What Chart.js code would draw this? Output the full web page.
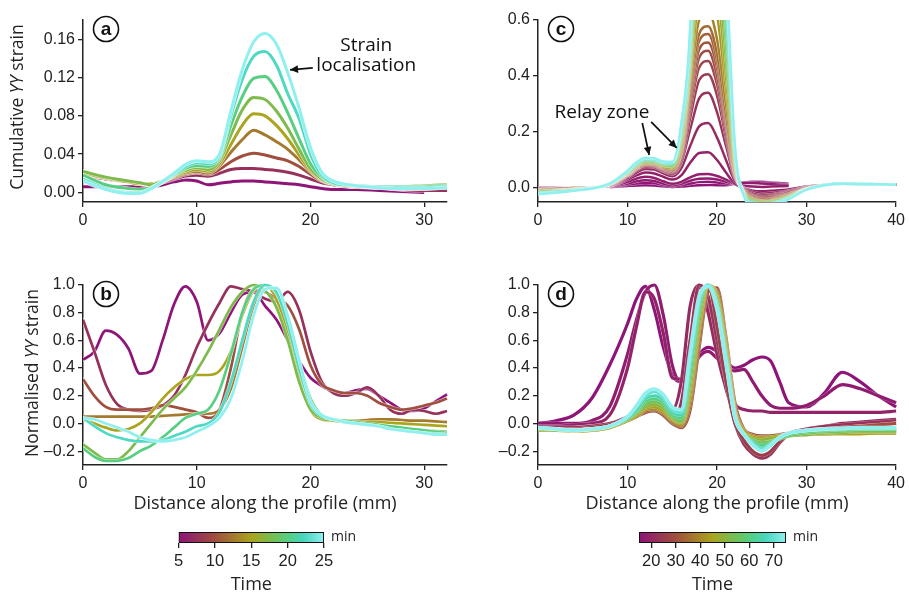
<!DOCTYPE html>
<html><head><meta charset="utf-8">
<script src="https://cdn.jsdelivr.net/npm/chart.js@4/dist/chart.umd.min.js"></script>
<style>
html,body{margin:0;padding:0;background:#fff;width:909px;height:594px;overflow:hidden}
canvas{position:absolute}
</style></head><body>
<canvas id="ca" style="left:0;top:0" width="460" height="235"></canvas>
<canvas id="cb" style="left:0;top:265px" width="460" height="250"></canvas>
<canvas id="cc" style="left:480px;top:0" width="429" height="235"></canvas>
<canvas id="cd" style="left:480px;top:265px" width="429" height="250"></canvas>
<canvas id="cbarA" style="left:170px;top:526px" width="200" height="70"></canvas>
<canvas id="cbarD" style="left:630px;top:526px" width="200" height="70"></canvas>
<script>
// ---------------- DATA ----------------
// Panel a: cumulative YY strain, times 5..25 min
const A_X = [0,2,4,5,6,8,9,10,11,12,13,14,15,16,17,18,19,20,21,22,24,26,28,30,32];
const A_TIMES = [5,7.5,10,12.5,15,17.5,20,22.5,25];
const A_05  = [0.006,0.006,0.006,0.006,0.006,0.011,0.013,0.012,0.008,0.0095,0.011,0.012,0.012,0.011,0.01,0.009,0.008,0.006,0.004,0.003,0.003,0.002,0.001,0.0,null];
const A_075 = [0.018,0.014,0.011,0.009,0.008,0.014,0.017,0.018,0.017,0.02,0.024,0.025,0.025,0.024,0.023,0.021,0.018,0.014,0.01,0.008,0.006,0.005,0.003,0.002,0.002];
const A_10  = [0.019,0.015,0.011,0.009,0.008,0.015,0.019,0.021,0.019,0.024,0.032,0.038,0.041,0.039,0.036,0.033,0.027,0.019,0.012,0.008,0.006,0.005,0.004,0.004,0.005];
const A_125 = [0.02,0.015,0.011,0.009,0.009,0.016,0.02,0.022,0.02,0.028,0.042,0.055,0.065,0.06,0.053,0.045,0.034,0.022,0.013,0.009,0.006,0.006,0.005,0.006,0.007];
const A_15  = [0.021,0.015,0.011,0.009,0.009,0.017,0.021,0.024,0.022,0.03,0.05,0.07,0.082,0.08,0.07,0.056,0.039,0.023,0.013,0.009,0.006,0.006,0.006,0.007,0.008];
const A_175 = [0.022,0.016,0.012,0.01,0.008,0.018,0.023,0.026,0.024,0.033,0.06,0.086,0.099,0.097,0.085,0.067,0.045,0.025,0.014,0.009,0.007,0.006,0.006,0.007,0.008];
const A_20  = [0.018,0.008,0.004,0.003,0.005,0.018,0.025,0.028,0.027,0.036,0.07,0.1,0.119,0.121,0.107,0.083,0.056,0.03,0.016,0.01,0.007,0.006,0.006,0.006,0.007];
const A_225 = [0.014,0.004,0.0,0.0,0.004,0.019,0.027,0.031,0.03,0.038,0.08,0.118,0.142,0.147,0.133,0.103,0.077,0.04,0.018,0.01,0.007,0.006,0.005,0.005,0.006];
const A_25  = [0.012,0.003,-0.001,-0.001,0.004,0.02,0.029,0.033,0.032,0.04,0.085,0.128,0.157,0.166,0.155,0.125,0.088,0.047,0.021,0.012,0.007,0.005,0.004,0.004,0.005];

// Panel b: normalised YY strain, times 5..25 min
const B_X = [0,1,2,3,4,5,6,7,8,9,10,11,12,13,14,15,16,17,18,19,20,21,22,23,24,25,26,27,28,29,30,31,32];
const B_TIMES = [5,7.5,10,12.5,15,17.5,20,22.5,25];
const B_05  = [0.46,0.52,0.67,0.64,0.54,0.36,0.38,0.6,0.86,0.99,0.88,0.6,0.65,0.8,0.93,0.95,0.85,0.75,0.6,0.45,0.33,0.27,0.23,0.22,0.24,0.25,0.2,0.15,0.1,0.09,0.11,0.16,0.21];
const B_075 = [0.75,0.52,0.28,0.14,0.1,0.09,0.1,0.13,0.2,0.35,0.55,0.72,0.87,0.99,0.97,0.95,0.9,0.88,0.95,0.82,0.52,0.3,0.22,0.2,0.22,0.26,0.2,0.1,0.07,0.1,0.09,0.07,0.09];
const B_10  = [0.32,0.2,0.12,0.1,0.1,0.1,0.11,0.13,0.12,0.1,0.08,0.04,0.1,0.4,0.8,0.96,0.95,0.9,0.85,0.68,0.42,0.28,0.24,0.22,0.22,0.2,0.15,0.12,0.1,0.11,0.13,0.15,0.18];
const B_125 = [0.05,0.05,0.05,0.05,0.05,0.05,0.05,0.055,0.06,0.065,0.07,0.07,0.1,0.25,0.55,0.85,1.0,0.93,0.72,0.42,0.12,0.03,0.02,0.02,0.02,0.025,0.03,0.03,0.025,0.02,0.02,0.015,0.01];
const B_15  = [0.03,0.0,-0.03,-0.05,-0.04,0.0,0.08,0.18,0.26,0.32,0.35,0.35,0.38,0.52,0.78,0.96,1.0,0.9,0.66,0.36,0.1,0.03,0.02,0.02,0.015,0.01,0.01,0.005,0.0,-0.005,-0.01,-0.015,-0.02];
const B_175 = [-0.15,-0.21,-0.26,-0.26,-0.2,-0.1,0.0,0.1,0.18,0.26,0.38,0.52,0.68,0.84,0.95,1.0,0.96,0.84,0.6,0.3,0.1,0.04,0.02,0.01,0.0,-0.01,-0.02,-0.03,-0.04,-0.045,-0.05,-0.055,-0.06];
const B_20  = [-0.18,-0.24,-0.27,-0.27,-0.25,-0.2,-0.16,-0.1,-0.03,0.04,0.07,0.1,0.24,0.5,0.8,0.97,1.0,0.94,0.75,0.45,0.18,0.06,0.03,0.02,0.01,0.0,-0.01,-0.02,-0.03,-0.04,-0.05,-0.06,-0.07];
const B_225 = [0.04,-0.02,-0.07,-0.1,-0.12,-0.13,-0.13,-0.12,-0.09,-0.06,-0.02,0.0,0.08,0.3,0.6,0.88,1.0,0.95,0.72,0.4,0.14,0.05,0.03,0.01,0.0,-0.01,-0.02,-0.04,-0.05,-0.06,-0.07,-0.075,-0.08];
const B_25  = [0.04,0.03,0.0,-0.03,-0.06,-0.1,-0.12,-0.13,-0.12,-0.1,-0.06,-0.02,0.04,0.18,0.45,0.78,0.97,0.98,0.78,0.46,0.16,0.06,0.03,0.01,0.0,-0.01,-0.02,-0.04,-0.05,-0.06,-0.07,-0.08,-0.08];

// Panel c: cumulative YY strain, times 15..75 min
const C_X = [0,4,8,10,11,12,13,14,15,16,17,18,19,20,21,22,23,24,25,26,28,30,34,40];
const C_TIMES = [15,16,17,18,19,21,23,25,27,29,31,33,35,39,43,47,51,55,59,63,67,71,75];
const C_15 = [null,null,0.003,0.007,0.009,0.01,0.009,0.006,0.004,0.005,0.008,0.01,0.011,0.01,0.01,0.015,0.02,0.022,0.022,0.02,0.015,null,null,null];
const C_16 = [null,null,0.004,0.012,0.016,0.019,0.017,0.011,0.007,0.01,0.016,0.021,0.022,0.02,0.016,0.014,0.02,0.021,0.02,0.018,0.012,null,null,null];
const C_17 = [null,null,0.005,0.016,0.024,0.028,0.025,0.016,0.01,0.015,0.026,0.033,0.034,0.03,0.022,0.015,0.018,0.018,0.016,0.014,0.01,null,null,null];
const C_18 = [null,null,0.006,0.022,0.034,0.04,0.036,0.024,0.015,0.022,0.038,0.049,0.05,0.043,0.03,0.014,0.008,0.005,0.004,0.005,0.007,null,null,null];
const C_19 = [0,0,0.007,0.03,0.045,0.055,0.052,0.04,0.03,0.045,0.09,0.125,0.128,0.1,0.055,0.015,0,-0.01,-0.012,-0.01,-0.005,0.005,0.014,0.012];
const C_21 = [0,0,0.008,0.035,0.055,0.068,0.066,0.052,0.042,0.07,0.15,0.22,0.232,0.18,0.1,0.025,0,-0.015,-0.02,-0.018,-0.01,0.003,0.014,0.012];
const C_23 = [-0.003,0,0.009,0.04,0.062,0.076,0.074,0.06,0.05,0.09,0.21,0.32,0.34,0.27,0.15,0.035,-0.002,-0.02,-0.026,-0.024,-0.012,0.002,0.014,0.012];
const C_25 = [-0.004,0,0.01,0.043,0.066,0.08,0.078,0.063,0.055,0.1,0.25,0.385,0.406,0.33,0.18,0.04,-0.004,-0.025,-0.03,-0.028,-0.015,0.001,0.014,0.012];
const C_27 = [-0.005,0,0.01,0.045,0.068,0.083,0.08,0.066,0.058,0.11,0.28,0.43,0.454,0.37,0.2,0.045,-0.006,-0.028,-0.034,-0.032,-0.017,0,0.014,0.012];
const C_29 = [-0.006,0,0.011,0.046,0.07,0.085,0.082,0.068,0.06,0.12,0.3,0.465,0.49,0.4,0.22,0.05,-0.008,-0.03,-0.037,-0.035,-0.02,0,0.015,0.012];
const C_31 = [-0.007,-0.001,0.011,0.047,0.071,0.086,0.083,0.07,0.062,0.125,0.32,0.495,0.52,0.43,0.235,0.053,-0.01,-0.033,-0.04,-0.038,-0.022,-0.001,0.015,0.012];
const C_33 = [-0.008,-0.002,0.012,0.048,0.072,0.087,0.085,0.072,0.064,0.13,0.34,0.525,0.55,0.455,0.25,0.056,-0.012,-0.036,-0.043,-0.041,-0.024,-0.002,0.015,0.012];
const C_35 = [-0.009,-0.003,0.012,0.049,0.073,0.088,0.086,0.073,0.066,0.135,0.36,0.55,0.578,0.48,0.265,0.06,-0.014,-0.038,-0.046,-0.044,-0.026,-0.003,0.015,0.012];
const C_39 = [-0.01,-0.004,0.013,0.05,0.074,0.089,0.087,0.075,0.069,0.14,0.38,0.6,0.63,0.53,0.3,0.065,-0.015,-0.04,-0.047,-0.045,-0.027,-0.003,0.015,0.012];
const C_43 = [-0.011,-0.004,0.013,0.051,0.076,0.091,0.089,0.077,0.071,0.15,0.4,0.68,0.72,0.62,0.35,0.07,-0.016,-0.041,-0.049,-0.047,-0.028,-0.003,0.015,0.012];
const C_47 = [-0.012,-0.005,0.014,0.052,0.078,0.093,0.091,0.08,0.075,0.16,0.42,0.78,0.82,0.72,0.4,0.08,-0.018,-0.043,-0.05,-0.048,-0.03,-0.004,0.015,0.012];
const C_51 = [-0.013,-0.005,0.014,0.053,0.079,0.095,0.093,0.082,0.077,0.17,0.44,0.88,0.93,0.82,0.46,0.09,-0.019,-0.045,-0.052,-0.05,-0.031,-0.004,0.015,0.012];
const C_55 = [-0.014,-0.006,0.014,0.054,0.08,0.096,0.094,0.083,0.079,0.18,0.46,1.0,1.05,0.93,0.52,0.1,-0.02,-0.047,-0.054,-0.051,-0.032,-0.004,0.015,0.012];
const C_59 = [-0.016,-0.007,0.015,0.056,0.083,0.099,0.097,0.086,0.082,0.19,0.48,1.12,1.18,1.05,0.58,0.11,-0.022,-0.05,-0.056,-0.053,-0.034,-0.005,0.015,0.012];
const C_63 = [-0.017,-0.008,0.015,0.057,0.085,0.101,0.099,0.088,0.085,0.2,0.5,1.25,1.32,1.17,0.64,0.12,-0.024,-0.052,-0.058,-0.055,-0.035,-0.005,0.015,0.012];
const C_67 = [-0.019,-0.008,0.015,0.059,0.087,0.103,0.101,0.09,0.088,0.21,0.52,1.38,1.46,1.3,0.7,0.13,-0.025,-0.055,-0.061,-0.057,-0.037,-0.006,0.015,0.012];
const C_71 = [-0.02,-0.009,0.016,0.06,0.089,0.105,0.103,0.092,0.091,0.22,0.55,1.5,1.6,1.42,0.76,0.14,-0.026,-0.057,-0.063,-0.059,-0.038,-0.006,0.015,0.012];
const C_75 = [-0.022,-0.01,0.016,0.062,0.092,0.108,0.106,0.095,0.094,0.23,0.58,1.62,1.75,1.55,0.82,0.15,-0.028,-0.06,-0.066,-0.06,-0.04,-0.006,0.015,0.012];

// Panel d: normalised YY strain, times 15..75 min
const D_X = [0,2,4,6,8,10,11,12,13,14,15,16,17,18,19,20,21,22,23,24,25,26,27,28,30,32,34,36,38,40];
const D_TIMES = [15,17,19,21,23,26,30,35,40,45,50,55,60,65,70,75];
const D_15 = [0,0.02,0.06,0.18,0.42,0.72,0.9,0.99,0.82,0.55,0.35,0.3,0.38,0.5,0.55,0.52,0.45,0.4,0.42,0.46,0.48,0.45,0.3,0.15,0.12,0.22,0.37,0.3,0.2,0.12];
const D_17 = [0,0,0.0,0.02,0.12,0.5,0.75,0.95,1.0,0.78,0.42,0.3,0.36,0.48,0.52,0.47,0.41,0.38,0.39,0.3,0.2,0.13,0.11,0.11,0.13,0.2,0.28,0.25,0.2,0.15];
const D_19 = [-0.02,-0.02,-0.01,0.0,0.06,0.4,0.7,0.95,0.9,0.65,0.33,0.32,0.6,0.98,0.85,0.55,0.3,0.14,0.1,0.09,0.09,0.08,0.08,0.08,0.08,0.08,0.08,0.08,0.08,0.09];
const D_21 = [-0.03,-0.03,-0.03,-0.02,0.0,0.05,0.1,0.15,0.18,0.15,0.1,0.3,0.85,1.0,0.8,0.5,0.25,0.05,-0.06,-0.12,-0.16,-0.14,-0.1,-0.07,-0.04,-0.02,0.0,0.01,0.02,0.03];
const D_23 = [-0.03,-0.03,-0.03,-0.02,0.0,0.03,0.07,0.12,0.14,0.1,0.05,0.15,0.6,1.0,0.92,0.6,0.3,0.0,-0.15,-0.22,-0.25,-0.22,-0.14,-0.08,-0.04,-0.02,-0.01,0.0,0.01,0.02];
const D_26 = [-0.04,-0.04,-0.04,-0.03,-0.01,0.02,0.05,0.08,0.1,0.06,0.0,-0.02,0.3,0.85,1.0,0.7,0.3,0.0,-0.12,-0.2,-0.23,-0.2,-0.13,-0.08,-0.05,-0.04,-0.03,-0.02,-0.01,0.0];
const D_30 = [-0.04,-0.04,-0.045,-0.04,-0.02,0.02,0.05,0.08,0.09,0.06,0.0,-0.03,0.1,0.55,0.95,0.98,0.62,0.15,-0.04,-0.08,-0.09,-0.09,-0.08,-0.07,-0.05,-0.04,-0.03,-0.02,-0.01,0.0];
const D_35 = [-0.045,-0.045,-0.05,-0.045,-0.025,0.02,0.05,0.09,0.1,0.07,0.01,-0.02,0.14,0.6,0.97,0.96,0.6,0.12,-0.05,-0.09,-0.1,-0.09,-0.085,-0.08,-0.07,-0.06,-0.05,-0.05,-0.05,-0.05];
const D_40 = [-0.05,-0.05,-0.055,-0.05,-0.03,0.02,0.05,0.1,0.11,0.08,0.02,-0.01,0.18,0.66,0.99,0.94,0.58,0.1,-0.05,-0.09,-0.1,-0.1,-0.09,-0.085,-0.08,-0.075,-0.07,-0.07,-0.07,-0.07];
const D_45 = [-0.05,-0.05,-0.055,-0.05,-0.03,0.02,0.06,0.11,0.12,0.09,0.03,0.0,0.22,0.7,1.0,0.92,0.55,0.09,-0.06,-0.1,-0.11,-0.1,-0.09,-0.085,-0.08,-0.075,-0.075,-0.075,-0.07,-0.07];
const D_50 = [-0.045,-0.05,-0.05,-0.045,-0.025,0.03,0.07,0.12,0.14,0.11,0.04,0.01,0.27,0.75,1.0,0.9,0.52,0.07,-0.07,-0.11,-0.12,-0.11,-0.1,-0.09,-0.08,-0.07,-0.065,-0.06,-0.06,-0.06];
const D_55 = [-0.04,-0.045,-0.05,-0.045,-0.02,0.03,0.08,0.14,0.16,0.13,0.05,0.02,0.32,0.8,1.0,0.88,0.5,0.06,-0.08,-0.12,-0.14,-0.13,-0.11,-0.09,-0.07,-0.06,-0.055,-0.05,-0.05,-0.05];
const D_60 = [-0.035,-0.04,-0.05,-0.04,-0.02,0.04,0.09,0.16,0.18,0.15,0.06,0.04,0.38,0.84,1.0,0.86,0.48,0.05,-0.08,-0.13,-0.16,-0.14,-0.11,-0.08,-0.06,-0.05,-0.045,-0.04,-0.04,-0.04];
const D_65 = [-0.03,-0.04,-0.05,-0.04,-0.02,0.04,0.1,0.18,0.2,0.17,0.08,0.06,0.43,0.87,1.0,0.85,0.46,0.05,-0.08,-0.14,-0.18,-0.15,-0.1,-0.07,-0.05,-0.045,-0.04,-0.035,-0.035,-0.03];
const D_70 = [-0.03,-0.04,-0.05,-0.04,-0.02,0.05,0.12,0.2,0.23,0.19,0.1,0.08,0.48,0.9,1.0,0.84,0.45,0.05,-0.08,-0.15,-0.19,-0.15,-0.1,-0.07,-0.05,-0.04,-0.035,-0.03,-0.03,-0.03];
const D_75 = [-0.03,-0.04,-0.05,-0.04,-0.02,0.05,0.13,0.22,0.25,0.21,0.12,0.1,0.52,0.92,0.99,0.82,0.43,0.04,-0.08,-0.16,-0.2,-0.16,-0.1,-0.07,-0.05,-0.04,-0.035,-0.03,-0.03,-0.03];

// Tick labels
const X_TICKS_AB = [0,10,20,30];
const X_TICKS_CD = [0,10,20,30,40];
const Y_TICKS_A = [0,0.04,0.08,0.12,0.16];
const Y_TICKS_NORM = [-0.2,0,0.2,0.4,0.6,0.8,1.0];
const Y_TICKS_C = [0,0.2,0.4,0.6];
const CBAR_A_RANGE = [5,25];
const CBAR_A_TICKS = [5,10,15,20,25];
const CBAR_D_RANGE = [15,75];
const CBAR_D_TICKS = [20,30,40,50,60,70];

// ---------------- STYLE ----------------
const CMAP = [[0,[142,20,120]],[0.25,[160,78,62]],[0.5,[170,164,30]],[0.72,[92,204,112]],[0.86,[70,214,190]],[1,[144,240,240]]];
function cmapRGB(f){
  f = Math.max(0, Math.min(1, f));
  for (let i = 1; i < CMAP.length; i++) {
    if (f <= CMAP[i][0]) {
      const [f0,c0] = CMAP[i-1], [f1,c1] = CMAP[i];
      const u = (f - f0) / (f1 - f0);
      return 'rgb(' + c0.map((c,k)=>Math.round(c + (c1[k]-c)*u)).join(',') + ')';
    }
  }
  return 'rgb(144,240,240)';
}
const TICK_FONT = {family: "'Liberation Sans', Arial, sans-serif", size: 16};
const TITLE_FAMILY = "'Open Sans', 'Liberation Sans', sans-serif";
const INK = '#222';
Chart.defaults.color = INK;

function fmtMinus(s){ return s.replace('-', '\u2013'); }

const haloPlugin = {
  id: 'halo',
  beforeDatasetDraw(chart, args, o) {
    const line = args.meta.dataset;
    if (!o || !o.width || !line || typeof line.path !== 'function') return;
    const ctx = chart.ctx, a = chart.chartArea, top = o.top || 0;
    ctx.save();
    ctx.beginPath();
    ctx.rect(a.left, a.top - top, a.right - a.left, a.bottom - a.top + top);
    ctx.clip();
    if (line.updateControlPoints) line.updateControlPoints(a, 'x');
    ctx.beginPath();
    line.path(ctx);
    ctx.lineWidth = o.width;
    ctx.strokeStyle = 'rgba(255,255,255,' + (o.alpha || 0.7) + ')';
    ctx.lineJoin = 'round'; ctx.lineCap = 'round';
    ctx.stroke();
    ctx.restore();
  }
};

function arrow(ctx, x0, y0, x1, y1) {
  ctx.beginPath(); ctx.moveTo(x0, y0); ctx.lineTo(x1, y1);
  ctx.lineWidth = 1.7; ctx.strokeStyle = '#111'; ctx.stroke();
  const ang = Math.atan2(y1 - y0, x1 - x0), L = 8, W = 3.8;
  ctx.beginPath();
  ctx.moveTo(x1, y1);
  ctx.lineTo(x1 - L*Math.cos(ang) + W*Math.sin(ang), y1 - L*Math.sin(ang) - W*Math.cos(ang));
  ctx.lineTo(x1 - L*Math.cos(ang) - W*Math.sin(ang), y1 - L*Math.sin(ang) + W*Math.cos(ang));
  ctx.closePath(); ctx.fillStyle = '#111'; ctx.fill();
}

const decoPlugin = {
  id: 'deco',
  afterDraw(chart, args, o) {
    if (!o) return;
    const ctx = chart.ctx, a = chart.chartArea, xs = chart.scales.x, ys = chart.scales.y;
    ctx.save();
    if (o.letter) {
      const cx = a.left + 23, cy = a.top + 9;
      ctx.beginPath(); ctx.arc(cx, cy, 12.5, 0, Math.PI*2);
      ctx.fillStyle = '#fff'; ctx.fill();
      ctx.lineWidth = 1.6; ctx.strokeStyle = '#111'; ctx.stroke();
      ctx.fillStyle = '#111'; ctx.font = "bold 19px 'Liberation Sans', Arial, sans-serif";
      ctx.textAlign = 'center'; ctx.textBaseline = 'middle';
      ctx.fillText(o.letter, cx, cy + 1);
    }
    if (o.ytitle) {
      const t = o.ytitle;
      ctx.translate(t.x, t.y); ctx.rotate(-Math.PI/2);
      const fonts = t.parts.map(p => (p[1] ? 'italic ' : '') + '17.5px ' + TITLE_FAMILY);
      let total = 0;
      t.parts.forEach((p,i) => { ctx.font = fonts[i]; total += ctx.measureText(p[0]).width; });
      let x = -total/2;
      ctx.fillStyle = INK; ctx.textAlign = 'left'; ctx.textBaseline = 'middle';
      t.parts.forEach((p,i) => { ctx.font = fonts[i]; ctx.fillText(p[0], x, 0); x += ctx.measureText(p[0]).width; });
      ctx.setTransform(1,0,0,1,0,0);
    }
    if (o.notes) {
      ctx.fillStyle = '#111'; ctx.font = '19px ' + TITLE_FAMILY;
      ctx.textAlign = 'center'; ctx.textBaseline = 'middle';
      o.notes.forEach(n => ctx.fillText(n.t, xs.getPixelForValue(n.x), ys.getPixelForValue(n.y)));
    }
    if (o.arrows) {
      o.arrows.forEach(r => arrow(ctx, xs.getPixelForValue(r[0]), ys.getPixelForValue(r[1]), xs.getPixelForValue(r[2]), ys.getPixelForValue(r[3])));
    }
    if (o.minLabel) {
      ctx.fillStyle = INK; ctx.font = '14px ' + TITLE_FAMILY;
      ctx.textAlign = 'left'; ctx.textBaseline = 'middle';
      ctx.fillText('min', a.right + 7, (a.top + a.bottom)/2);
    }
    ctx.restore();
  }
};

const GRID = {display: true, drawOnChartArea: false, drawTicks: true, tickLength: 5, color: '#222', lineWidth: 1.3};
const BORDER = {display: true, color: '#222', width: 1.5};

function panel(id, c) {
  const datasets = c.series.map((ys, i) => ({
    data: c.xs.map((x, j) => ({x: x, y: ys[j]})),
    borderColor: cmapRGB((c.times[i] - c.tRange[0]) / (c.tRange[1] - c.tRange[0])),
    borderWidth: c.lw, pointRadius: 0, pointHoverRadius: 0,
    cubicInterpolationMode: 'monotone', fill: false, spanGaps: false,
    order: c.orderSign * c.times[i],
    clip: {left: 0, top: c.clipTop, right: 2, bottom: 0}
  }));
  return new Chart(document.getElementById(id), {
    type: 'line',
    data: {datasets},
    options: {
      responsive: false, animation: false, events: [],
      layout: {padding: {top: c.padTop, right: c.padRight, left: 0, bottom: 0}},
      plugins: {legend: {display: false}, tooltip: {enabled: false},
        deco: c.deco, halo: {width: c.lw + c.halo, alpha: c.haloAlpha, top: c.clipTop}},
      scales: {
        x: {type: 'linear', min: c.xMin, max: c.xMax,
          afterBuildTicks: s => { s.ticks = c.xTicks.map(v => ({value: v})); },
          afterFit: s => { s.height = c.xH; },
          grid: GRID, border: BORDER,
          ticks: {font: TICK_FONT, color: INK, padding: 4, maxRotation: 0, callback: v => String(v)},
          title: c.xTitle ? {display: true, text: c.xTitle, color: INK,
            font: {family: TITLE_FAMILY, size: 18}, padding: {top: 0, bottom: 0}} : {display: false}
        },
        y: {type: 'linear', min: c.yMin, max: c.yMax,
          afterBuildTicks: s => { s.ticks = c.yTicks.map(v => ({value: v})); },
          afterFit: s => { s.width = c.yW; },
          grid: GRID, border: BORDER,
          ticks: {font: TICK_FONT, color: INK, padding: 3, callback: v => fmtMinus(Number(v).toFixed(c.dec))}
        }
      }
    },
    plugins: [haloPlugin, decoPlugin]
  });
}

panel('ca', {xs: A_X, times: A_TIMES, series: [A_05,A_075,A_10,A_125,A_15,A_175,A_20,A_225,A_25],
  tRange: CBAR_A_RANGE, lw: 3, halo: 1.2, haloAlpha: 0.75, orderSign: -1, clipTop: 0,
  padTop: 20, padRight: 13, yW: 83, xH: 33,
  xMin: 0, xMax: 32, xTicks: X_TICKS_AB, yMin: -0.01, yMax: 0.18, yTicks: Y_TICKS_A, dec: 2,
  deco: {letter: 'a', ytitle: {x: 18, y: 107, parts: [['Cumulative ', 0], ['YY', 1], [' strain', 0]]},
    notes: [{t: 'Strain', x: 24.9, y: 0.1535}, {t: 'localisation', x: 24.9, y: 0.132}],
    arrows: [[20.2, 0.130, 18.2, 0.128]]}
});
panel('cb', {xs: B_X, times: B_TIMES, series: [B_05,B_075,B_10,B_125,B_15,B_175,B_20,B_225,B_25],
  tRange: CBAR_A_RANGE, lw: 2.7, halo: 1.0, haloAlpha: 0.7, orderSign: -1, clipTop: 4,
  padTop: 20, padRight: 13, yW: 83, xH: 50,
  xMin: 0, xMax: 32, xTicks: X_TICKS_AB, yMin: -0.3, yMax: 1.0, yTicks: Y_TICKS_NORM, dec: 1,
  xTitle: 'Distance along the profile (mm)',
  deco: {letter: 'b', ytitle: {x: 33, y: 108, parts: [['Normalised ', 0], ['YY', 1], [' strain', 0]]}}
});
panel('cc', {xs: C_X, times: C_TIMES,
  series: [C_15,C_16,C_17,C_18,C_19,C_21,C_23,C_25,C_27,C_29,C_31,C_33,C_35,C_39,C_43,C_47,C_51,C_55,C_59,C_63,C_67,C_71,C_75],
  tRange: CBAR_D_RANGE, lw: 2.5, halo: 0.8, haloAlpha: 0.6, orderSign: -1, clipTop: 0,
  padTop: 20, padRight: 7, yW: 58, xH: 33,
  xMin: 0, xMax: 40, xTicks: X_TICKS_CD, yMin: -0.05, yMax: 0.6, yTicks: Y_TICKS_C, dec: 1,
  deco: {letter: 'c', notes: [{t: 'Relay zone', x: 7.14, y: 0.268}],
    arrows: [[11.65, 0.232, 12.42, 0.118], [12.64, 0.236, 15.5, 0.143]]}
});
panel('cd', {xs: D_X, times: D_TIMES,
  series: [D_15,D_17,D_19,D_21,D_23,D_26,D_30,D_35,D_40,D_45,D_50,D_55,D_60,D_65,D_70,D_75],
  tRange: CBAR_D_RANGE, lw: 3.2, halo: 0.6, haloAlpha: 0.5, orderSign: -1, clipTop: 4,
  padTop: 20, padRight: 7, yW: 58, xH: 50,
  xMin: 0, xMax: 40, xTicks: X_TICKS_CD, yMin: -0.3, yMax: 1.0, yTicks: Y_TICKS_NORM, dec: 1,
  xTitle: 'Distance along the profile (mm)',
  deco: {letter: 'd'}
});

function colorbar(id, range, ticks, padL, padR) {
  return new Chart(document.getElementById(id), {
    type: 'bar',
    data: {labels: [''], datasets: [{
      data: [[range[0], range[1]]],
      backgroundColor: (ctx) => {
        const ch = ctx.chart, a = ch.chartArea;
        if (!a) return '#888';
        const g = ch.ctx.createLinearGradient(a.left, 0, a.right, 0);
        for (let i = 0; i <= 20; i++) g.addColorStop(i/20, cmapRGB(i/20));
        return g;
      },
      borderColor: '#111', borderWidth: 1.3, borderSkipped: false,
      barPercentage: 1, categoryPercentage: 1
    }]},
    options: {
      indexAxis: 'y', responsive: false, animation: false, events: [],
      layout: {padding: {left: padL, right: padR, top: 6, bottom: 0}},
      plugins: {legend: {display: false}, tooltip: {enabled: false}, deco: {minLabel: true}},
      scales: {
        x: {type: 'linear', min: range[0], max: range[1],
          afterBuildTicks: s => { s.ticks = ticks.map(v => ({value: v})); },
          afterFit: s => { s.height = 53; },
          grid: {display: true, drawOnChartArea: false, drawTicks: true, tickLength: 5, color: '#222', lineWidth: 1.3},
          border: {display: false},
          ticks: {font: {family: "'Liberation Sans', Arial, sans-serif", size: 16.5}, color: INK, padding: 4, maxRotation: 0},
          title: {display: true, text: 'Time', color: INK, font: {family: TITLE_FAMILY, size: 18}, padding: {top: 0, bottom: 0}}
        },
        y: {display: false}
      }
    },
    plugins: [decoPlugin]
  });
}
colorbar('cbarA', CBAR_A_RANGE, CBAR_A_TICKS, 8, 46);
colorbar('cbarD', CBAR_D_RANGE, CBAR_D_TICKS, 9, 44);
</script>
</body></html>
